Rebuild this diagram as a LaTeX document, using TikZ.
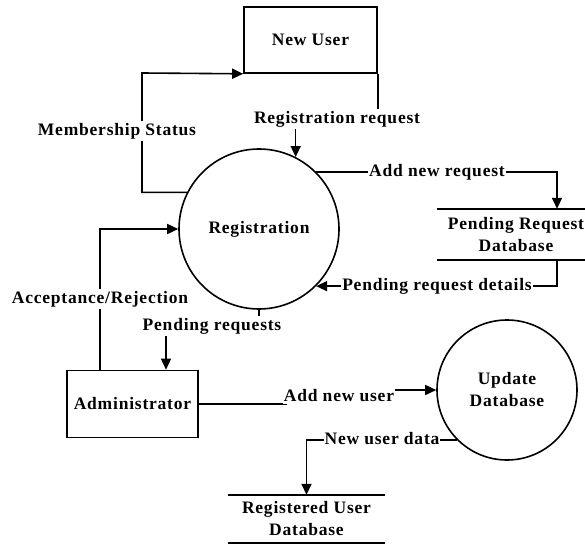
\documentclass[tikz,border=0pt]{standalone}
\usepackage{fontspec}
\setmainfont{Liberation Serif}[LetterSpace=4.5]
\usetikzlibrary{arrows.meta,calc}
\pgfdeclarelayer{bg}
\pgfsetlayers{bg,main}

\tikzset{
  every node/.style={font=\fontsize{17.5}{22}\selectfont\bfseries, text=black},
  entity/.style={draw, line width=1.6pt, inner sep=0pt},
  process/.style={circle, draw, line width=1.6pt, inner sep=0pt, align=center},
  store/.style={align=center, inner sep=0pt},
  storeline/.style={line width=1.6pt},
  lbl/.style={fill=white, inner xsep=1pt, inner ysep=2pt},
  flow/.style={line width=1.6pt, -{Triangle[length=11pt,width=10pt]}},
}

\begin{document}
\begin{tikzpicture}[x=1pt, y=-1pt]
  \useasboundingbox (0,0) rectangle (585,545);

  % external entities
  \node[entity, minimum width=133pt, minimum height=66pt] (newuser) at (310.5,40) {New User};
  \node[entity, minimum width=131pt, minimum height=67pt] (admin) at (132.5,404) {Administrator};

  % processes
  \node[process, minimum size=160pt] (reg) at (259,229) {Registration};
  \node[process, minimum size=140pt] (upd) at (507,390) {Update\\Database};

  % data stores
  \node[store, minimum width=148pt, minimum height=51pt] (pdb) at (511,234.5) {};
  \node at (516,234.5) [align=center, inner sep=0pt] (pdbtext) {Pending Request\\Database};
  \draw[storeline] (pdb.north west) -- (pdb.north east);
  \draw[storeline] (pdb.south west) -- (pdb.south east);

  \node[store, minimum width=157pt, minimum height=48pt] (rdb) at (306.5,519) {Registered User\\Database};
  \draw[storeline] (rdb.north west) -- (rdb.north east);
  \draw[storeline] (rdb.south west) -- (rdb.south east);

  % flow labels
  \node[lbl] (lms)  at (117,131) {Membership Status};
  \node[lbl] (lrr)  at (337,119) {Registration request};
  \node[lbl] (lanr) at (437,172) {Add new request};
  \node[lbl] (lprd) at (437,286) {Pending request details};
  \node[lbl] (lar)  at (100,299) {Acceptance/Rejection};
  \node[lbl] (lpr)  at (212,326) {Pending requests};
  \node[lbl] (lanu) at (339,396) {Add new user};
  \node[lbl] (lnud) at (382,439) {New user data};

  \coordinate (msbend) at (142,73);

  % data flows
  \begin{pgfonlayer}{bg}
    \draw[flow] (reg.153) -| (msbend) -- (newuser.south west);
    \draw[flow] (newuser.south east) -- ++(0,46) -| (reg.63);
    \draw[flow] (reg.45) -| ([xshift=46pt]pdb.north);
    \draw[flow] ([xshift=46pt]pdb.south) |- (reg.-45);
    \draw[flow] ([xshift=-32.5pt]admin.north) |- (reg.west);
    \draw[flow] (reg.south) -- ++(0,16) -| ([xshift=33.5pt]admin.north);
    \draw[flow] (admin.east) -| ([xshift=3pt]lanu.west) |- (upd.west);
    \draw[flow] (upd.225) -| (rdb.north);
  \end{pgfonlayer}
\end{tikzpicture}
\end{document}
